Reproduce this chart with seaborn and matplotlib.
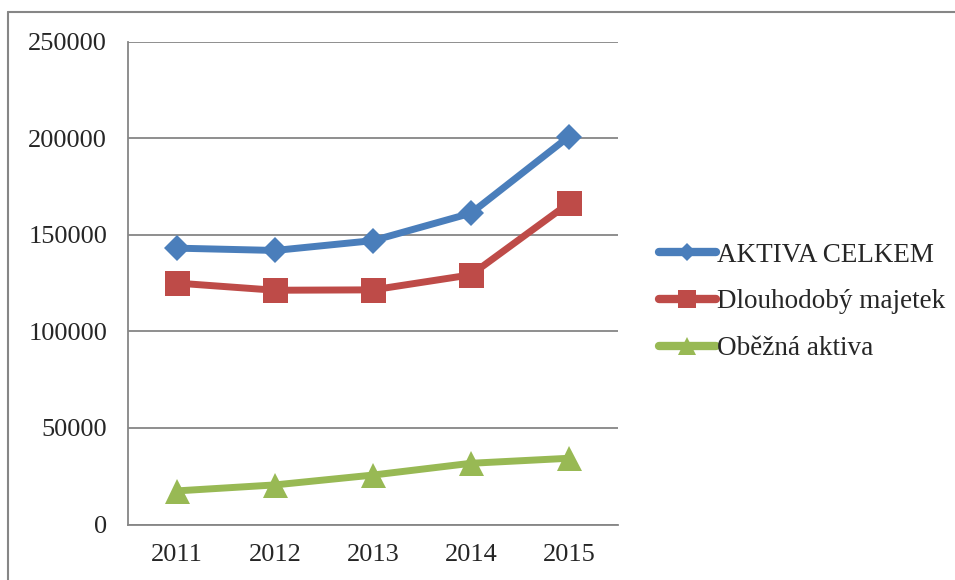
import matplotlib
matplotlib.use("Agg")
import matplotlib.pyplot as plt
from matplotlib.lines import Line2D
import seaborn as sns
import pandas as pd

years = ["2011", "2012", "2013", "2014", "2015"]
aktiva_celkem = [143100, 141900, 147000, 161200, 200900]
dlouhodoby_majetek = [125000, 121300, 121500, 129300, 166400]
obezna_aktiva = [17400, 20500, 25600, 31700, 34300]
series_names = ["AKTIVA CELKEM", "Dlouhodobý majetek", "Oběžná aktiva"]
y_ticks = [0, 50000, 100000, 150000, 200000, 250000]

df = pd.DataFrame({
    "rok": years * 3,
    "hodnota": aktiva_celkem + dlouhodoby_majetek + obezna_aktiva,
    "serie": [series_names[0]] * 5 + [series_names[1]] * 5 + [series_names[2]] * 5,
})

sns.set_style("white")
plt.rcParams["font.family"] = ["Liberation Serif", "DejaVu Serif"]

colors = {series_names[0]: "#4A7EBB", series_names[1]: "#BE4B48", series_names[2]: "#98B954"}
markers = {series_names[0]: "D", series_names[1]: "s", series_names[2]: "^"}
sizes = {series_names[0]: 13, series_names[1]: 18, series_names[2]: 18}

fig = plt.figure(figsize=(9.55, 5.8), dpi=100)
ax = fig.add_axes([128 / 955, 1 - 524.5 / 580, (618 - 128) / 955, (524.5 - 41.7) / 580])

grid_c = "#868686"
for name in series_names:
    sub = df[df["serie"] == name]
    sns.lineplot(data=sub, x="rok", y="hodnota", ax=ax, color=colors[name],
                 marker=markers[name], markersize=sizes[name], linewidth=5,
                 markeredgewidth=0, sort=False, label=name,
                 solid_capstyle="round", solid_joinstyle="round")

ax.set_xlim(-0.5, 4.5)
ax.set_ylim(0, 250000)
ax.set_yticks(y_ticks)
ax.set_yticklabels([str(v) for v in y_ticks])
ax.set_xticks([i - 0.5 for i in range(6)], minor=False)
ax.set_xticklabels([])
ax.set_xticks(range(5), minor=True)
ax.set_xticklabels(years, minor=True)
ax.tick_params(axis="x", which="major", length=7, width=1.3, color=grid_c, direction="out")
ax.tick_params(axis="x", which="minor", length=0, pad=14, labelsize=19)
ax.tick_params(axis="y", length=8, width=1.3, color=grid_c, direction="out", pad=7, labelsize=19)
ax.set_xlabel("")
ax.set_ylabel("")

ax.yaxis.grid(True, color=grid_c, linewidth=1.3)
ax.set_axisbelow(True)
for side in ["top", "right"]:
    ax.spines[side].set_visible(False)
for side in ["left", "bottom"]:
    ax.spines[side].set_color(grid_c)
    ax.spines[side].set_linewidth(1.3)

ax.get_legend().remove()
handles = [Line2D([], [], color=colors[n], marker=markers[n], markersize=sizes[n] * 0.7,
                  linewidth=6, markeredgewidth=0, solid_capstyle="round") for n in series_names]
fig.legend(handles, series_names, loc="center left", bbox_to_anchor=(659 / 955, 1 - 302 / 580),
           frameon=False, fontsize=19.5, handlelength=2.1, handletextpad=0.05,
           labelspacing=0.8, borderaxespad=0, borderpad=0)

# outer chart border
fx = 8 / 955
fy = 1 - 12 / 580
fig.add_artist(Line2D([fx, fx], [0, fy], color=grid_c, linewidth=1.5, transform=fig.transFigure))
fig.add_artist(Line2D([fx, 1], [fy, fy], color=grid_c, linewidth=1.5, transform=fig.transFigure))

fig.savefig("out.png", dpi=100, facecolor="white")
